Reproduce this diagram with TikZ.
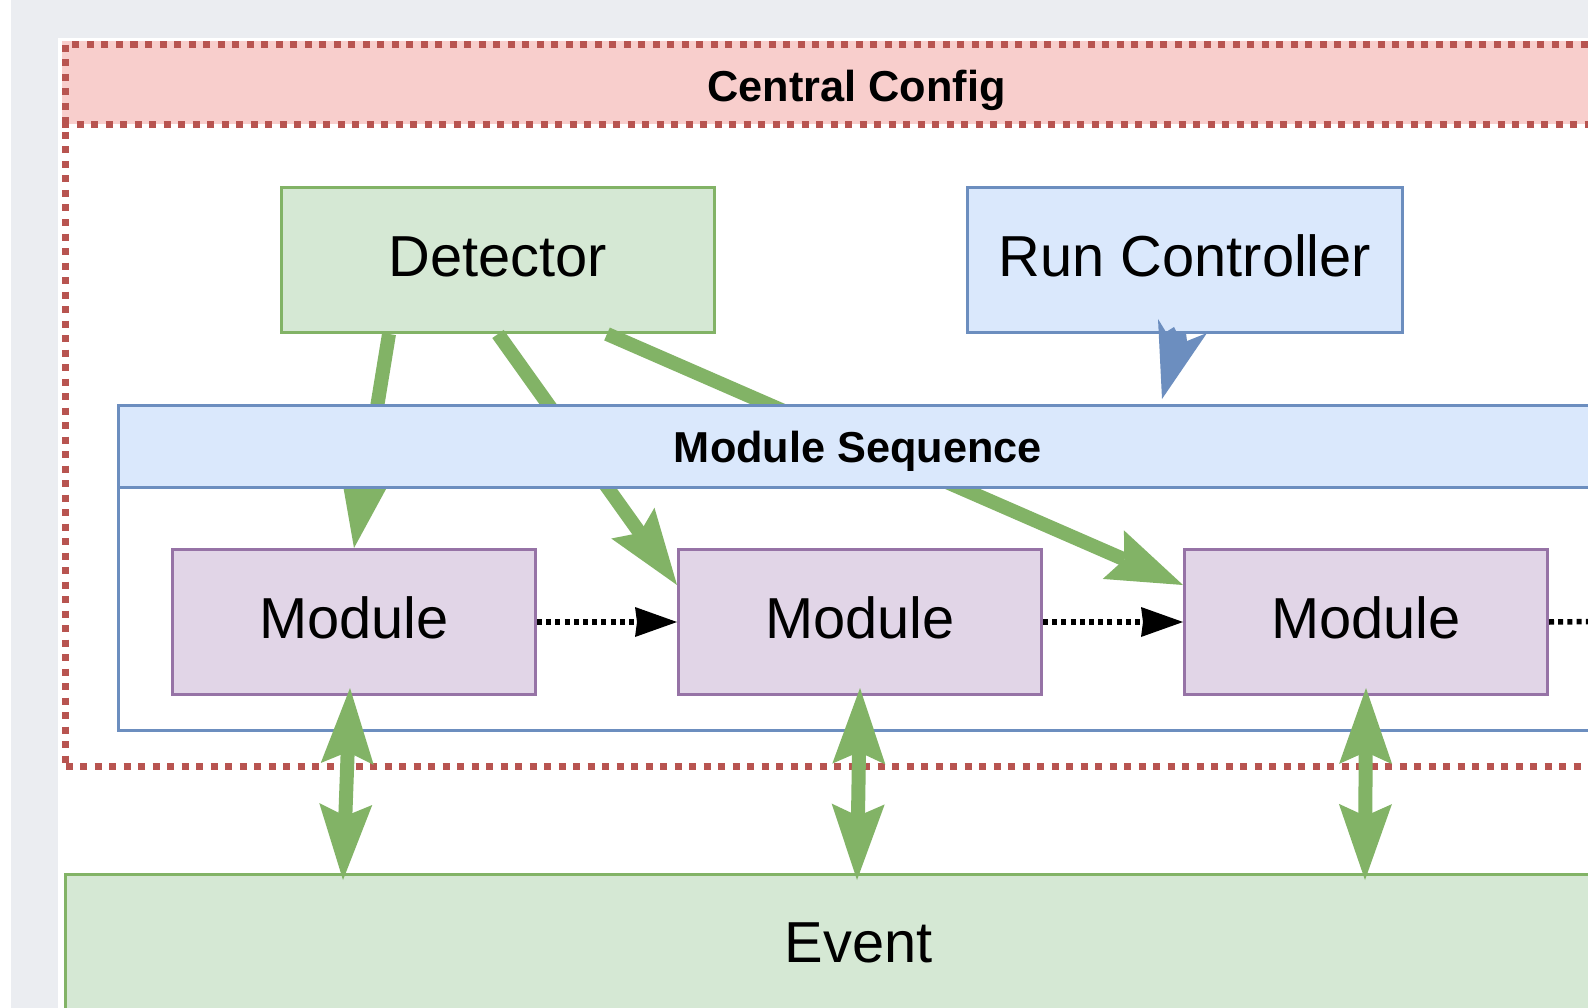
\documentclass[tikz,border=0pt]{standalone}
\usepackage{fontspec}
\setmainfont{Liberation Sans}
\usetikzlibrary{arrows.meta,calc}

\definecolor{pagegray}{HTML}{EBEDF1}
\definecolor{ccfill}{HTML}{F8CECC}
\definecolor{ccline}{HTML}{B85450}
\definecolor{bufill}{HTML}{DAE8FC}
\definecolor{buline}{HTML}{6C8EBF}
\definecolor{grfill}{HTML}{D5E8D4}
\definecolor{grline}{HTML}{82B366}
\definecolor{mofill}{HTML}{E1D5E7}
\definecolor{moline}{HTML}{9673A6}

\tikzset{
  bigtext/.style={font=\fontsize{57.8pt}{69pt}\selectfont, text height=41.5pt, text depth=8pt},
  headtext/.style={font=\bfseries\fontsize{43.3pt}{52pt}\selectfont, text height=31pt, text depth=0pt},
  plainbox/.style={draw, line width=3pt, inner sep=0pt, anchor=north west},
  greenbox/.style={plainbox, fill=grfill, draw=grline, bigtext},
  bluebox/.style={plainbox, fill=bufill, draw=buline, bigtext},
  modbox/.style={plainbox, fill=mofill, draw=moline, bigtext,
                 minimum width=363pt, minimum height=145pt},
  ccdots/.style={draw=ccline, line width=7pt, dash pattern=on 7pt off 7.5pt},
  cchead/.style={anchor=north west, inner sep=0pt, fill=ccfill,
                 minimum width=1589pt, minimum height=83pt},
  ccframe/.style={ccdots, anchor=north west, inner sep=0pt,
                  minimum width=1589pt, minimum height=722pt},
  msframe/.style={plainbox, draw=buline, minimum width=1479pt, minimum height=325pt},
  mshead/.style={plainbox, draw=buline, fill=bufill, headtext,
                 minimum width=1479pt, minimum height=82pt},
  flow/.style={draw=grline, line width=14pt, -{Stealth[length=76pt, width=53pt, inset=12pt, line width=0pt]}},
  dataflow/.style={draw=grline, line width=14pt,
    {Stealth[length=76pt, width=53pt, inset=12pt, line width=0pt]}-{Stealth[length=76pt, width=53pt, inset=12pt, line width=0pt]}},
  seqflow/.style={draw=black, line width=5.5pt, dash pattern=on 5pt off 4.2pt,
    -{Stealth[length=42pt, width=30pt, inset=2pt, line width=0pt]}},
  seqdots/.style={draw=black, line width=5.5pt, dash pattern=on 5pt off 4.2pt},
}

\begin{document}
\begin{tikzpicture}[x=1pt, y=-1pt]
\useasboundingbox (0,0) rectangle (1588,1008);
\clip (0,0) rectangle (1588,1008);

% page background
\fill[white] (0,0) rectangle (1588,1008);
\fill[pagegray] (11,0) rectangle (1588,38);
\fill[pagegray] (11,0) rectangle (58,1008);

% Central Config container
\node[cchead] (cchead) at (62,41) {};
\node[ccframe] (cc) at (62,41) {};
\draw[ccdots] (cchead.south west) -- (cchead.south east);
\node[headtext] (cctitle) at ($(cchead.center)+(0,3)$) {Central Config};

% Module Sequence body
\node[msframe] (ms) at (117,404) {};

% top-level components
\node[greenbox, minimum width=433pt, minimum height=145pt] (det) at (280,186) {Detector};
\node[bluebox, minimum width=435pt, minimum height=145pt] (rc) at (966,186) {Run Controller};

% modules
\node[modbox] (m1) at (171,548) {Module};
\node[modbox] (m2) at (677,548) {Module};
\node[modbox] (m3) at (1183,548) {Module};

% detector feeds every module
\draw[flow] ($(det.south west)!0.25!(det.south east)$) -- (m1.north);
\draw[flow] (det.south) -- ($(m2.north west)!0.25!(m2.south west)$);
\draw[flow] ($(det.south west)!0.75!(det.south east)$) -- ($(m3.north west)!0.25!(m3.south west)$);

% Module Sequence header
\node[mshead] (mshead) at (117,404) {Module Sequence};

% run controller drives the sequence
\coordinate (rctip) at (1162,399);
\fill[buline] ($(rctip)+(-4,-80)$) -- ($(rctip)+(4,-67)$) -- ($(rctip)+(12,-72)$)
  -- ($(rctip)+(15,-66)$) -- ($(rctip)+(24,-66)$) -- ($(rctip)+(25,-58)$)
  -- ($(rctip)+(45,-66)$) -- (rctip) -- cycle;

% execution order of the modules
\coordinate (seqend) at (1700,620.5);
\draw[seqflow] (m1.east) -- (m2.west);
\draw[seqflow] (m2.east) -- (m3.west);
\draw[seqdots] (m3.east) -- (seqend);

% event data
\node[greenbox, minimum width=1586pt, minimum height=142pt] (ev) at (64,873) {Event};

\coordinate (e1) at (343,880);
\coordinate (e2) at (857,880);
\coordinate (e3) at (1365,880);
\draw[dataflow] ($(m1.south)+(-4,-8)$) -- (e1);
\draw[dataflow] ($(m2.south)+(0,-8)$) -- (e2);
\draw[dataflow] ($(m3.south)+(0,-8)$) -- (e3);
\end{tikzpicture}
\end{document}
